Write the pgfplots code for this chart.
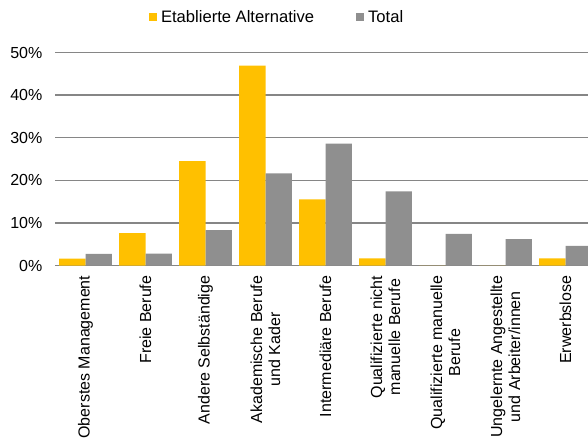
\documentclass[border=0pt]{standalone}
\usepackage{fontspec}
\setmainfont{Liberation Sans}
\usepackage{pgfplots}
\pgfplotsset{compat=1.18}
\definecolor{gelb}{HTML}{FFC000}
\definecolor{grau}{HTML}{8F8F8F}
\definecolor{gitter}{HTML}{868686}
\newcommand{\chartfont}{\fontsize{16}{18}\selectfont}
\newcommand{\legendfont}{\fontsize{16.6}{19}\selectfont}
\begin{document}
\begin{tikzpicture}[font=\chartfont]
\begin{axis}[
  at={(55.5pt,173.5pt)}, anchor=south west,
  scale only axis, width=532.5pt, height=213pt,
  ybar=0pt, bar width=26.3pt,
  xmin=-0.5, xmax=8.375, ymin=0, ymax=50,
  xtick={0,...,8},
  xticklabels={{Oberstes Management},{Freie Berufe},{Andere Selbständige},{Akademische Berufe\\und Kader},{Intermediäre Berufe},{Qualifizierte nicht\\manuelle Berufe},{Qualifizierte manuelle\\Berufe},{Ungelernte Angestellte\\und Arbeiter/innen},{Erwerbslose}},
  xticklabel style={rotate=90, anchor=east, align=center, inner sep=0pt, font=\chartfont},
  xticklabel shift=10pt,
  ytick={0,10,...,50},
  yticklabel={\pgfmathprintnumber{\tick}\%},
  yticklabel style={inner sep=0pt, font=\chartfont},
  yticklabel shift=13pt,
  /pgf/number format/assume math mode=true,
  major tick length=0pt,
  axis line style={draw=none},
  ymajorgrids,
  grid style={gitter, line width=1.5pt},
  legend columns=2,
  legend style={at={(0.1756,1.1667)}, anchor=west, draw=none, fill=none,
    inner sep=0pt, outer sep=0pt, font=\legendfont,
    nodes={inner sep=0pt},
    /tikz/every odd column/.style={column sep=4pt},
    /tikz/every even column/.style={column sep=42pt}},
]
\addplot[fill=gelb, draw=none, legend image code/.code={\fill[gelb] (0pt,-4pt) rectangle (8pt,4pt);}]
  coordinates {(0,1.6) (1,7.6) (2,24.5) (3,46.9) (4,15.5) (5,1.7) (6,0) (7,0) (8,1.7)};
\addlegendentry{Etablierte Alternative}
\addplot[fill=grau, draw=none, legend image code/.code={\fill[grau] (0pt,-4pt) rectangle (8pt,4pt);}]
  coordinates {(0,2.7) (1,2.8) (2,8.3) (3,21.6) (4,28.6) (5,17.4) (6,7.4) (7,6.2) (8,4.6)};
\addlegendentry{Total}
\end{axis}
\pgfresetboundingbox
\useasboundingbox (0,0) rectangle (588pt,439pt);
\end{tikzpicture}
\end{document}
